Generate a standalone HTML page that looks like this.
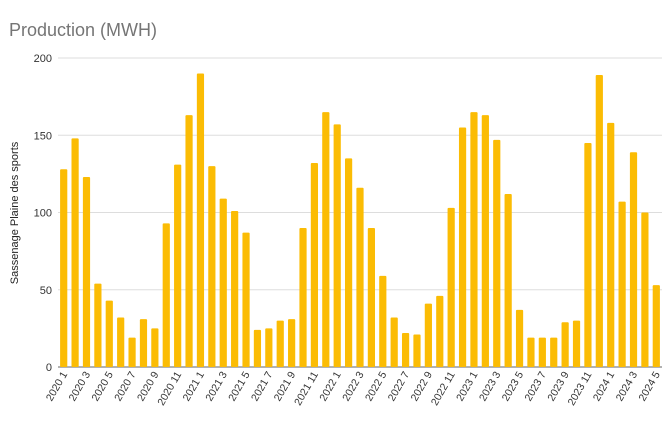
<!DOCTYPE html>
<html><head><meta charset="utf-8"><style>
body{margin:0;background:#fff;font-family:"Liberation Sans",sans-serif;}
svg text{font-family:"Liberation Sans",sans-serif;}
</style></head><body>
<svg id="c" width="670" height="430">
<text x="9" y="36" font-size="18" fill="#757575">Production (MWH)</text>
<text transform="translate(18,213) rotate(-90)" text-anchor="middle" font-size="11" fill="#222">Sassenage Plaine des sports</text>
<g id="grid"></g><g id="bars"></g><g id="xl"></g>
</svg>
<script>
const values=[128,148,123,54,43,32,19,31,25,93,131,163,190,130,109,101,87,24,25,30,31,90,132,165,157,135,116,90,59,32,22,21,41,46,103,155,165,163,147,112,37,19,19,19,29,30,145,189,158,107,139,100,53];
const yTicks=[0,50,100,150,200];
const startYear=2020;
const NS="http://www.w3.org/2000/svg";
const x0=58,x1=662,y0=367,y1=58;
const slot=(x1-x0)/values.length;
const xPos=i=>x0+slot*(i+0.5);
const yPos=v=>y0-(v/200)*(y0-y1);
const g=document.getElementById('grid'),b=document.getElementById('bars'),xl=document.getElementById('xl');
function mk(t,a,p){const e=document.createElementNS(NS,t);for(const k in a)e.setAttribute(k,a[k]);p.appendChild(e);return e;}
yTicks.forEach(t=>{
 const l=mk('line',{x1:x0,x2:x1,y1:yPos(t),y2:yPos(t),stroke:t===0?'#999':'#ddd','stroke-width':t===0?1.5:1},g);
 
 
 const tx=mk('text',{x:x0-6,y:yPos(t)+4,'text-anchor':'end','font-size':11,fill:'#333'},g);
 tx.textContent=t;
 
 
});
values.forEach((v,i)=>{
 const r=mk('rect',{x:xPos(i)-3.6,y:yPos(v),width:7.2,height:y0-yPos(v),fill:'#fbbc04',rx:1},b);
 
 
 if(i%2===0){
  const lab=(startYear+Math.floor(i/12))+' '+(i%12+1);
  const t=mk('text',{transform:`translate(${xPos(i)+4},${y0+7}) rotate(-60)`,'text-anchor':'end','font-size':10.5,fill:'#333'},xl);
  t.textContent=lab;
  
  
 }
});
</script>
</body></html>
